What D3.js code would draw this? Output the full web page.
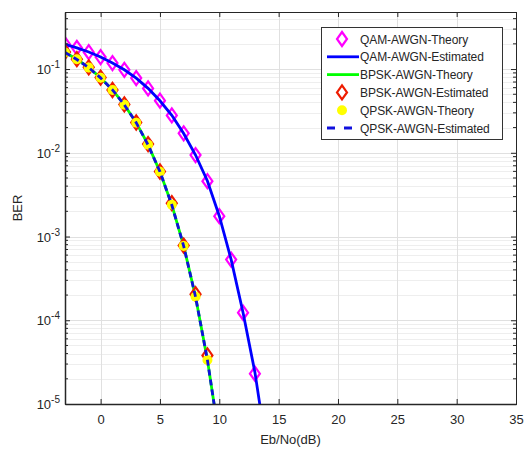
<!DOCTYPE html>
<html lang="en">
<head>
    <meta charset="UTF-8">
    <title>BER vs Eb/No</title>
    <style>
        body { margin: 0; background: #fff; }
        text { font-family: "Liberation Sans", Arial, sans-serif; fill: #262626; }
        .grid line { stroke: #e0e0e0; stroke-width: 1; }
        .minor line { stroke: #eeeeee; stroke-width: 1; }
    </style>
</head>
<body>
    <div id="chart"></div>
    <script src="https://cdn.jsdelivr.net/npm/d3@7"></script>
    <script>

        // Eb/No points (dB)
        var ebnoQam = [-3, -2, -1, 0, 1, 2, 3, 4, 5, 6, 7, 8, 9, 10, 11, 12, 13, 14];
        var ebnoBpsk = [-3, -2, -1, 0, 1, 2, 3, 4, 5, 6, 7, 8, 9, 10];

        // values
        var qamTheory = [0.198, 0.179, 0.159, 0.139, 0.118, 0.098, 0.078, 0.0587, 0.0419, 0.0279,
                         0.0171, 0.0094, 0.00458, 0.00175, 0.00053, 0.000123, 0.000023, 0.0000027];
        var qamEstimated = [0.197, 0.179, 0.160, 0.139, 0.118, 0.098, 0.078, 0.0588, 0.0418, 0.0280,
                            0.0170, 0.0094, 0.00460, 0.00176, 0.00053, 0.000124, 0.000024, 0.0000028];
        var bpskTheory = [0.158, 0.131, 0.104, 0.0786, 0.0563, 0.0375, 0.0229, 0.0125, 0.00595, 0.00239,
                          0.000773, 0.000191, 0.0000336, 0.0000039];
        var bpskEstimated = [0.160, 0.131, 0.105, 0.0790, 0.0562, 0.0378, 0.0230, 0.0127, 0.00598, 0.00250,
                             0.000780, 0.000205, 0.0000380, 0.0000040];
        var qpskTheory = bpskTheory.slice();
        var qpskEstimated = [0.158, 0.130, 0.104, 0.0784, 0.0565, 0.0374, 0.0229, 0.0124, 0.00596, 0.00238,
                             0.000770, 0.000190, 0.0000335, 0.0000039];

        var xTicks = [0, 5, 10, 15, 20, 25, 30, 35];
        var yTicks = [1e-5, 1e-4, 1e-3, 1e-2, 1e-1];
        var legendNames = ["QAM-AWGN-Theory", "QAM-AWGN-Estimated", "BPSK-AWGN-Theory",
                           "BPSK-AWGN-Estimated", "QPSK-AWGN-Theory", "QPSK-AWGN-Estimated"];

        var width = 525, height = 454;
        var margin = {top: 12, right: 9, bottom: 50, left: 65};
        var w = width - margin.left - margin.right,
            h = height - margin.top - margin.bottom;

        var svg = d3.select("#chart").append("svg")
            .attr("width", width)
            .attr("height", height);

        var g = svg.append("g").attr("transform", "translate(" + margin.left + "," + margin.top + ")");

        var x = d3.scaleLinear().domain([-3, 35]).range([0, w]);
        var y = d3.scaleLog().domain([1e-5, 0.48]).range([h, 0]);

        // minor y values
        var minorY = [];
        for (var e = -5; e <= -1; e++) {
            for (var m = 2; m <= 9; m++) {
                var v = m * Math.pow(10, e);
                if (v < 0.48) minorY.push(v);
            }
        }

        g.append("g").attr("class", "minor")
            .selectAll("line").data(minorY).enter().append("line")
            .attr("x1", 0).attr("x2", w)
            .attr("y1", d => Math.round(y(d)) + 0.5).attr("y2", d => Math.round(y(d)) + 0.5);

        var grid = g.append("g").attr("class", "grid");
        grid.selectAll(".gx").data(xTicks).enter().append("line")
            .attr("x1", d => Math.round(x(d)) + 0.5).attr("x2", d => Math.round(x(d)) + 0.5)
            .attr("y1", 0).attr("y2", h);
        grid.selectAll(".gy").data(yTicks).enter().append("line")
            .attr("x1", 0).attr("x2", w)
            .attr("y1", d => Math.round(y(d)) + 0.5).attr("y2", d => Math.round(y(d)) + 0.5);

        svg.append("defs").append("clipPath").attr("id", "clip")
            .append("rect").attr("width", w).attr("height", h);

        var plot = g.append("g").attr("clip-path", "url(#clip)");

        function line(xs) {
            return d3.line().x((d, i) => x(xs[i])).y(d => y(d));
        }

        var diamondPath = "M0,-7L5,0L0,7L-5,0Z";

        function diamonds(xs, vals, color) {
            plot.append("g").selectAll("path").data(vals).enter().append("path")
                .attr("d", diamondPath)
                .attr("transform", (d, i) => "translate(" + x(xs[i]) + "," + y(d) + ")")
                .attr("fill", "none")
                .attr("stroke", color)
                .attr("stroke-width", 2.2);
        }

        // draw order like the legend
        diamonds(ebnoQam, qamTheory, "#ff00ff");
        plot.append("path").datum(qamEstimated)
            .attr("d", line(ebnoQam))
            .attr("fill", "none").attr("stroke", "#0000ff").attr("stroke-width", 2.8);

        plot.append("path").datum(bpskTheory)
            .attr("d", line(ebnoBpsk))
            .attr("fill", "none").attr("stroke", "#00ff00").attr("stroke-width", 2.8);

        diamonds(ebnoBpsk, bpskEstimated, "#ee1c00");

        plot.append("g").selectAll("circle").data(qpskTheory).enter().append("circle")
            .attr("cx", (d, i) => x(ebnoBpsk[i]))
            .attr("cy", d => y(d))
            .attr("r", 5)
            .attr("fill", "#ffff00");

        plot.append("path").datum(qpskEstimated)
            .attr("d", line(ebnoBpsk))
            .attr("fill", "none").attr("stroke", "#1010dd").attr("stroke-width", 2.8)
            .attr("stroke-dasharray", "6,4");

        // axes box
        g.append("rect").attr("x", 0.5).attr("y", 0.5).attr("width", w).attr("height", h)
            .attr("fill", "none").attr("stroke", "#262626").attr("stroke-width", 1);

        var xAxis = d3.axisBottom(x).tickValues(xTicks).tickSizeInner(-5).tickSizeOuter(0).tickPadding(11);
        var gx = g.append("g").attr("transform", "translate(0," + h + ")").call(xAxis);
        gx.select(".domain").attr("stroke", "#262626").attr("stroke-width", 1.5);
        gx.selectAll(".tick line").attr("stroke", "#262626");
        gx.selectAll("text").attr("font-size", 13).attr("fill", "#333");

        var gxTop = g.append("g").call(d3.axisTop(x).tickValues(xTicks).tickSizeInner(-5).tickSizeOuter(0).tickFormat(""));
        gxTop.select(".domain").remove();
        gxTop.selectAll(".tick line").attr("stroke", "#262626");

        var yAxis = d3.axisLeft(y).tickValues(yTicks).tickSizeInner(-5).tickSizeOuter(0).tickFormat("");
        var gy = g.append("g").call(yAxis);
        gy.select(".domain").attr("stroke", "#262626").attr("stroke-width", 1.5);
        gy.selectAll(".tick line").attr("stroke", "#262626");
        gy.append("g").selectAll("line").data(minorY).enter().append("line")
            .attr("x1", 0).attr("x2", 3).attr("y1", d => y(d)).attr("y2", d => y(d))
            .attr("stroke", "#262626");

        var gyR = g.append("g").attr("transform", "translate(" + w + ",0)")
            .call(d3.axisRight(y).tickValues(yTicks).tickSizeInner(-5).tickSizeOuter(0).tickFormat(""));
        gyR.select(".domain").remove();
        gyR.selectAll(".tick line").attr("stroke", "#262626");
        gyR.append("g").selectAll("line").data(minorY).enter().append("line")
            .attr("x1", 0).attr("x2", -3).attr("y1", d => y(d)).attr("y2", d => y(d))
            .attr("stroke", "#262626");

        // y tick labels as 10^n
        var ylab = g.append("g").selectAll("text").data(yTicks).enter().append("text")
            .attr("x", -5)
            .attr("y", d => y(d) + 5)
            .attr("text-anchor", "end")
            .attr("font-size", 13)
            .attr("fill", "#333");
        ylab.append("tspan").text("10");
        ylab.append("tspan").attr("dy", -6).attr("font-size", 10)
            .text(d => "-" + Math.round(-Math.log10(d)));

        g.append("text")
            .attr("x", w / 2).attr("y", h + 40)
            .attr("text-anchor", "middle").attr("font-size", 13).attr("fill", "#333")
            .text("Eb/No(dB)");

        g.append("text")
            .attr("transform", "translate(" + (-43) + "," + (h / 2) + ") rotate(-90)")
            .attr("text-anchor", "middle").attr("font-size", 13).attr("fill", "#333")
            .text("BER");

        // legend
        var lx = 321 - margin.left, ly = 27 - margin.top, rowH = 17.8;
        var legend = g.append("g").attr("transform", "translate(" + lx + "," + ly + ")");
        legend.append("rect").attr("x", 0.5).attr("y", 0.5).attr("width", 181).attr("height", 112)
            .attr("fill", "#fff").attr("stroke", "#333").attr("stroke-width", 1);

        legendNames.forEach(function(name, i) {
            var cy = 12 + i * rowH, row = legend.append("g");
            if (i === 0 || i === 3) {
                row.append("path").attr("d", diamondPath)
                    .attr("transform", "translate(21," + cy + ")")
                    .attr("fill", "none")
                    .attr("stroke", i === 0 ? "#ff00ff" : "#ee1c00").attr("stroke-width", 2.2);
            } else if (i === 4) {
                row.append("circle").attr("cx", 21).attr("cy", cy).attr("r", 5).attr("fill", "#ffff00");
            } else {
                row.append("line").attr("x1", 6).attr("x2", 38).attr("y1", cy).attr("y2", cy)
                    .attr("stroke", i === 1 ? "#0000ff" : i === 2 ? "#00ff00" : "#1010dd")
                    .attr("stroke-width", 2.8)
                    .attr("stroke-dasharray", i === 5 ? "8,9" : null);
            }
            row.append("text").attr("x", 39).attr("y", cy + 4.5)
                .attr("font-size", 12).attr("letter-spacing", -0.1).attr("fill", "#222")
                .text(name);
        });
    </script>
</body>
</html>
